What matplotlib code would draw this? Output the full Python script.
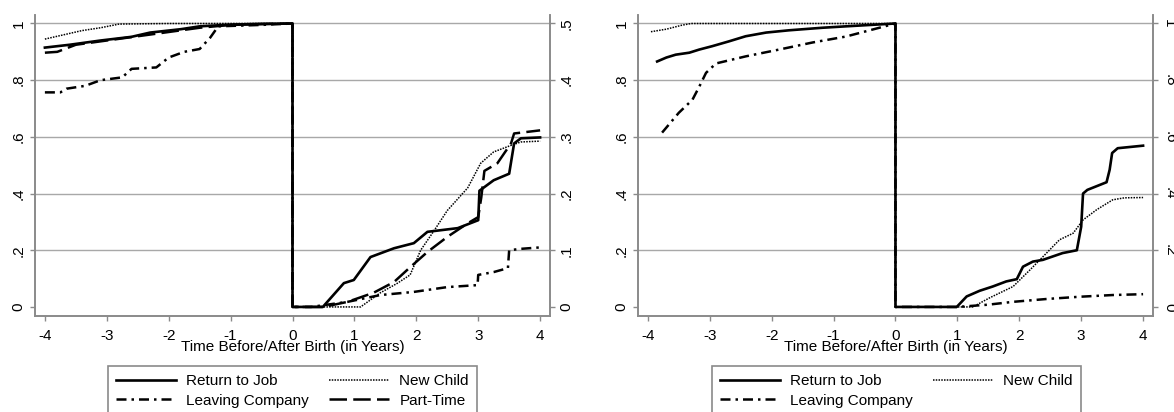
import matplotlib
matplotlib.use("Agg")
import matplotlib.pyplot as plt

plt.rcParams["font.family"] = ["Liberation Sans", "DejaVu Sans"]

# left panel (four outcomes)
l_job_t = [-4.0, -3.6, -3.1, -2.6, -2.3, -1.8, -1.5, -1.0, -0.5, 0.0,
           0.0, 0.49, 0.83, 0.99, 1.26, 1.64, 1.96, 2.18, 2.67, 3.0, 3.02,
           3.25, 3.5, 3.58, 3.69, 4.0]
l_job_v = [0.915, 0.925, 0.94, 0.953, 0.968, 0.98, 0.99, 0.996, 0.999, 1.0,
           0.0, 0.0, 0.084, 0.095, 0.176, 0.207, 0.225, 0.265, 0.278, 0.306, 0.41,
           0.447, 0.47, 0.577, 0.595, 0.598]
l_part_t = [-4.0, -3.8, -3.5, -3.0, -2.5, -2.0, -1.5, -1.0, 0.0,
            0.0, 0.5, 0.89, 1.31, 1.64, 1.9, 2.18, 2.5, 2.83, 3.0, 3.05,
            3.1, 3.31, 3.53, 3.58, 4.0]
l_part_v = [0.897, 0.9, 0.925, 0.94, 0.955, 0.97, 0.985, 0.995, 1.0,
            0.0, 0.0, 0.018, 0.05, 0.088, 0.14, 0.194, 0.247, 0.295, 0.317, 0.387,
            0.48, 0.507, 0.577, 0.612, 0.623]
l_child_t = [-4.0, -3.7, -3.4, -3.1, -2.8, -2.0, -1.0, 0.0,
             0.0, 1.1, 1.42, 1.69, 1.9, 2.07, 2.29, 2.5, 2.83, 3.04, 3.25,
             3.53, 3.69, 4.0]
l_child_v = [0.945, 0.96, 0.975, 0.985, 0.998, 1.0, 1.0, 1.0,
             0.0, 0.0, 0.05, 0.083, 0.113, 0.2, 0.27, 0.34, 0.42, 0.507, 0.547,
             0.57, 0.582, 0.585]
l_leave_t = [-4.0, -3.75, -3.65, -3.35, -3.1, -2.75, -2.6, -2.2, -2.0, -1.75,
             -1.5, -1.33, -1.2, -0.5, 0.0,
             0.0, 0.3, 0.89, 1.42, 1.96, 2.5, 2.99, 3.0, 3.25, 3.48, 3.5,
             3.69, 4.0]
l_leave_v = [0.757, 0.757, 0.77, 0.78, 0.80, 0.81, 0.84, 0.845, 0.88, 0.90,
             0.91, 0.95, 0.99, 0.995, 1.0,
             0.0, 0.0, 0.018, 0.042, 0.053, 0.07, 0.077, 0.113, 0.123, 0.137, 0.2,
             0.205, 0.21]

# right panel (three outcomes)
r_job_t = [-3.85, -3.7, -3.55, -3.33, -3.17, -2.96, -2.69, -2.42, -2.09, -1.72,
           -1.18, -0.8, 0.0,
           0.0, 0.99, 1.15, 1.36, 1.57, 1.79, 1.96, 2.06, 2.22, 2.38, 2.7, 2.93,
           3.0, 3.03, 3.1, 3.41, 3.46, 3.5, 3.59, 4.0]
r_job_v = [0.866, 0.88, 0.89, 0.897, 0.908, 0.92, 0.937, 0.955, 0.968, 0.976,
           0.985, 0.99, 1.0,
           0.0, 0.0, 0.037, 0.057, 0.072, 0.09, 0.098, 0.142, 0.16, 0.166, 0.19, 0.2,
           0.283, 0.4, 0.413, 0.44, 0.484, 0.543, 0.56, 0.569]
r_child_t = [-3.95, -3.7, -3.45, -3.3, -2.0, 0.0,
             0.0, 1.25, 1.52, 1.9, 2.17, 2.44, 2.65, 2.87, 3.03, 3.25, 3.51,
             3.7, 4.0]
r_child_v = [0.971, 0.98, 0.994, 1.0, 1.0, 1.0,
             0.0, 0.0, 0.032, 0.072, 0.13, 0.19, 0.237, 0.26, 0.307, 0.343, 0.378,
             0.385, 0.386]
r_leave_t = [-3.77, -3.5, -3.28, -3.17, -3.06, -2.9, -2.42, -1.88, -1.34, -0.8,
             -0.26, 0.0,
             0.0, 1.0, 1.5, 1.9, 2.44, 2.98, 3.51, 4.0]
r_leave_v = [0.615, 0.685, 0.731, 0.777, 0.826, 0.859, 0.884, 0.908, 0.933, 0.954,
             0.985, 1.0,
             0.0, 0.0, 0.008, 0.018, 0.028, 0.036, 0.042, 0.045]

x_ticks = [-4, -3, -2, -1, 0, 1, 2, 3, 4]
y_ticks = [0, 0.2, 0.4, 0.6, 0.8, 1.0]
y_labels = ["0", ".2", ".4", ".6", ".8", "1"]
y2_labels_left = ["0", ".1", ".2", ".3", ".4", ".5"]

styles = {
    "Return to Job": dict(color="black", lw=1.9, ls="-"),
    "Leaving Company": dict(color="black", lw=1.8, ls=(0, (4, 2, 1, 2))),
    "New Child": dict(color="black", lw=1.1, ls=(0, (1, 0.8))),
    "Part-Time": dict(color="black", lw=1.8, ls=(0, (7, 2.5))),
}

grey = "#8a8a8a"
fs = 11
fig = plt.figure(figsize=(11.74, 4.12), dpi=100)


def setup(ax, right_labels, right_rot):
    ax.set_xlim(-4.16, 4.16)
    ax.set_ylim(-0.032, 1.03)
    ax.set_xticks(x_ticks)
    ax.set_xticklabels([str(v) for v in x_ticks], fontsize=fs)
    ax.set_yticks(y_ticks)
    ax.set_yticklabels(y_labels, rotation=90, va="center", fontsize=fs)
    for v in y_ticks[1:]:
        ax.axhline(v, color="#a8a8a8", lw=1.0, zorder=0)
    ax.spines["top"].set_visible(False)
    for s in ("left", "bottom", "right"):
        ax.spines[s].set_color(grey)
        ax.spines[s].set_linewidth(1.2)
    ax.tick_params(colors=grey, labelcolor="black", length=3.6, width=1.0)
    ax.tick_params(axis="x", pad=6.0)
    ax.tick_params(axis="y", pad=3.0)
    ax.set_xlabel("Time Before/After Birth (in Years)", fontsize=fs, labelpad=-2.5)
    ax2 = ax.twinx()
    ax2.set_ylim(ax.get_ylim())
    ax2.set_yticks(y_ticks)
    ax2.set_yticklabels(right_labels, rotation=right_rot, va="center", fontsize=fs)
    ax2.spines["top"].set_visible(False)
    for s in ("left", "bottom", "right"):
        ax2.spines[s].set_color(grey)
        ax2.spines[s].set_linewidth(1.2)
    ax2.tick_params(colors=grey, labelcolor="black", length=3.6, width=1.0, pad=3.0)


ax_l = fig.add_axes([0.0298, 0.233, 0.4387, 0.7306])
setup(ax_l, y2_labels_left, 90)
ax_l.plot(l_job_t, l_job_v, label="Return to Job", **styles["Return to Job"])
ax_l.plot(l_leave_t, l_leave_v, label="Leaving Company", **styles["Leaving Company"])
ax_l.plot(l_child_t, l_child_v, label="New Child", **styles["New Child"])
ax_l.plot(l_part_t, l_part_v, label="Part-Time", **styles["Part-Time"])

ax_r = fig.add_axes([0.5434, 0.233, 0.4387, 0.7306])
setup(ax_r, y_labels, 270)
ax_r.plot(r_job_t, r_job_v, label="Return to Job", **styles["Return to Job"])
ax_r.plot(r_leave_t, r_leave_v, label="Leaving Company", **styles["Leaving Company"])
ax_r.plot(r_child_t, r_child_v, label="New Child", **styles["New Child"])

for ax, cx in ((ax_l, 292.5 / 1174), (ax_r, 896.5 / 1174)):
    h, lab = ax.get_legend_handles_labels()
    leg = fig.legend(h, lab, ncol=2, loc="upper center",
                     bbox_to_anchor=(cx, 1 - 366 / 412), fontsize=fs,
                     handlelength=3.9, handletextpad=0.7, columnspacing=1.3,
                     labelspacing=0.35, borderpad=0.55, borderaxespad=0.0,
                     fancybox=False, edgecolor=grey, framealpha=1)
    leg.get_frame().set_linewidth(1.2)

fig.savefig("out.png", dpi=100)
